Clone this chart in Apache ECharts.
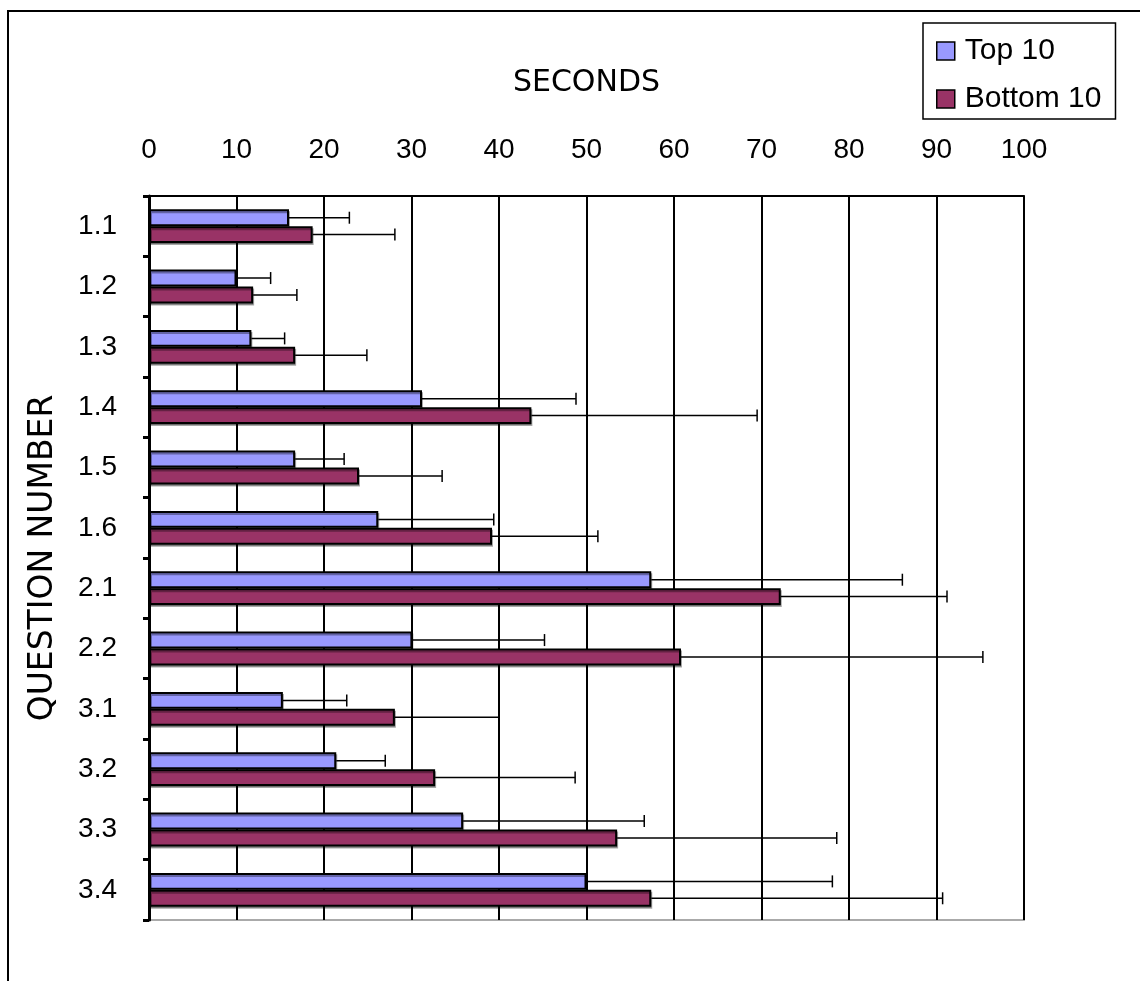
<!DOCTYPE html>
<html>
<head>
<meta charset="utf-8">
<script src="https://cdn.jsdelivr.net/npm/echarts@6/dist/echarts.min.js"></script>
<style>html,body{margin:0;padding:0;background:#fff;}#c{width:1140px;height:981px;}</style>
</head>
<body>
<div id="c"></div>
<script>
var categories = ['1.1','1.2','1.3','1.4','1.5','1.6','2.1','2.2','3.1','3.2','3.3','3.4'];
var topMeans = [16.0, 10.0, 11.7, 31.2, 16.7, 26.2, 57.4, 30.1, 15.3, 21.4, 35.9, 50.0];
var topErrEnds = [22.9, 13.9, 15.5, 48.8, 22.3, 39.4, 86.1, 45.2, 22.6, 27.0, 56.6, 78.1];
var bottomMeans = [18.7, 11.9, 16.7, 43.7, 24.0, 39.2, 72.2, 60.8, 28.1, 32.7, 53.5, 57.4];
var bottomErrEnds = [28.1, 16.9, 24.9, 69.5, 33.5, 51.3, 91.2, 95.3, 40.0, 48.7, 78.6, 90.7];
var xTicks = [0,10,20,30,40,50,60,70,80,90,100];

var chart = echarts.init(document.getElementById('c'));
var comic = "'DejaVu Sans',sans-serif";
var arial = "'Liberation Sans',Arial,sans-serif";

function errSeries(name, means, ends, dir) {
  var data = categories.map(function(c, i){ return [i, means[i], ends[i]]; });
  return {
    type: 'custom',
    name: name + ' err',
    z: 5,
    silent: true,
    data: data,
    encode: {x: [1,2], y: 0},
    renderItem: function(params, api) {
      var cat = api.value(0);
      var p0 = api.coord([api.value(1), cat]);
      var p1 = api.coord([api.value(2), cat]);
      var band = api.size([0, 1])[1];
      var y = p0[1] + dir * band * 0.14;
      return {
        type: 'group',
        children: [
          {type:'line', shape:{x1:p0[0], y1:y, x2:p1[0], y2:y}, style:{stroke:'#000', lineWidth:1.5}},
          {type:'line', shape:{x1:p1[0], y1:y-6, x2:p1[0], y2:y+6}, style:{stroke:'#000', lineWidth:1.5}}
        ]
      };
    }
  };
}

var option = {
  animation: false,
  backgroundColor: '#fff',
  graphic: [{
    type: 'rect', shape: {x: 8, y: 11, width: 1300, height: 1200},
    style: {fill: 'none', stroke: '#000', lineWidth: 2}, z: 0
  }],
  legend: {
    left: 923, top: 23,
    orient: 'vertical',
    padding: [13, 14, 5, 13],
    itemGap: 18,
    itemWidth: 18, itemHeight: 18,
    borderColor: '#000', borderWidth: 1.5,
    textStyle: {fontFamily: arial, fontSize: 30, color: '#000', padding: [0, 0, 0, 5]},
    data: [
      {name: 'Top 10', icon: 'rect', itemStyle: {color: '#9999FF', borderColor: '#000', borderWidth: 1.5}},
      {name: 'Bottom 10', icon: 'rect', itemStyle: {color: '#993366', borderColor: '#000', borderWidth: 1.5}}
    ]
  },
  grid: {
    left: 149, top: 196, width: 875, height: 724,
    show: true, borderColor: '#aaa', borderWidth: 2, backgroundColor: 'transparent'
  },
  xAxis: {
    type: 'value', position: 'top',
    min: 0, max: 100, interval: 10,
    name: 'SECONDS', nameLocation: 'middle', nameGap: 98,
    nameTextStyle: {fontFamily: comic, fontSize: 30, color: '#000'},
    axisLine: {show: true, lineStyle: {color: '#000', width: 2}},
    axisTick: {show: false},
    axisLabel: {fontFamily: arial, fontSize: 28, color: '#000', margin: 32,
      formatter: function(v){ return xTicks.indexOf(v) >= 0 ? String(v) : ''; }},
    splitLine: {show: true, lineStyle: {color: '#000', width: 2}}
  },
  yAxis: {
    type: 'category', inverse: true,
    data: categories,
    name: 'QUESTION NUMBER', nameLocation: 'middle', nameGap: 89, nameRotate: 90,
    nameTextStyle: {fontFamily: comic, fontSize: 33, color: '#000'},
    axisLine: {show: true, lineStyle: {color: '#000', width: 3}},
    axisTick: {show: true, length: 6, lineStyle: {color: '#000', width: 3}},
    axisLabel: {fontFamily: arial, fontSize: 28, color: '#000', margin: 32},
    splitLine: {show: false}
  },
  series: [
    {
      name: 'Top 10', type: 'bar', data: topMeans,
      barWidth: '28%', barGap: '0%',
      itemStyle: {color: '#9999FF', borderColor: '#000', borderWidth: 2,
        shadowColor: 'rgba(0,0,0,0.35)', shadowOffsetX: 1, shadowOffsetY: 2, shadowBlur: 0}
    },
    {
      name: 'Bottom 10', type: 'bar', data: bottomMeans,
      barWidth: '28%', barGap: '0%',
      itemStyle: {color: '#993366', borderColor: '#000', borderWidth: 2,
        shadowColor: 'rgba(0,0,0,0.35)', shadowOffsetX: 1, shadowOffsetY: 2, shadowBlur: 0}
    },
    errSeries('Top 10', topMeans, topErrEnds, -1),
    errSeries('Bottom 10', bottomMeans, bottomErrEnds, 1)
  ]
};
chart.setOption(option);
</script>
</body>
</html>
